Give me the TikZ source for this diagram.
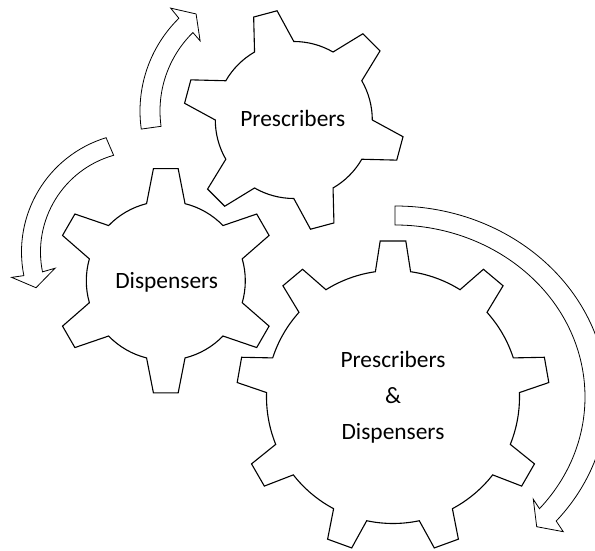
\documentclass[tikz,border=0pt]{standalone}
\usepackage{fontspec}
\setmainfont{Carlito}
\tikzset{
  gearline/.style={draw=black, line width=1.1pt, line join=miter, fill=white},
  bandarrow/.style={draw=black, line width=0.8pt, line join=miter, fill=white},
  geartext/.style={font=\fontsize{23.4}{36}\selectfont, text=black, inner sep=0pt, align=center},
}
% #1,#2 centre; #3 teeth; #4 angle of first tooth; #5 root radius; #6 tip radius;
% #7 half-angle of a tooth at the root; #8 half-angle of a tooth at the tip
\newcommand\gearoutline[8]{%
  \pgfmathsetmacro\gstep{360/#3}%
  \draw[gearline, shift={(#1,#2)}] ({#4-#7}:#5)
    \foreach \k in {1,...,#3} {
      -- ({#4+(\k-1)*\gstep-#8}:#6)
      -- ({#4+(\k-1)*\gstep+#8}:#6)
      -- ({#4+(\k-1)*\gstep+#7}:#5)
      arc[start angle={#4+(\k-1)*\gstep+#7}, end angle={#4+\k*\gstep-#7}, radius=#5]
    } -- cycle;
}
\begin{document}
\begin{tikzpicture}[x=1pt,y=1pt]
\useasboundingbox (0,0) rectangle (595,551);
\clip (0,0) rectangle (595,551);

% gears
\gearoutline{293.8}{431}{6}{105}{78.5}{110.5}{15}{6.3}
\gearoutline{165.8}{270.2}{6}{90}{79.5}{112.8}{14}{6.3}
\gearoutline{393}{154}{9}{90}{126.5}{156.5}{8}{4.7}

% curved arrow above the left gear, pointing up
\draw[bandarrow, shift={(270,440)}]
  (188:130) arc[start angle=188, end angle=134.5, radius=130]
  -- (134:143) -- (127.3:122) -- (134.9:99) -- (134.5:110)
  arc[start angle=134.5, end angle=188, radius=110] -- cycle;

% curved arrow on the left, pointing down
\draw[bandarrow, shift={(141,299)}]
  (107:119.5) arc[start angle=107, end angle=191.4, radius=119.5]
  -- (191.1:131.8) -- (198.8:110.9) -- (190.7:87.5) -- (191.4:100.5)
  arc[start angle=191.4, end angle=105.8, radius=100.5] -- cycle;

% long curved arrow round the large gear
\draw[bandarrow, shift={(395,154)}]
  (90:212 and 191) arc[start angle=90, end angle=-40.5, x radius=212, y radius=191]
  -- (168.3,-134.7) -- (141.7,-129.7) -- (138.3,-102.3) -- (-40.5:190 and 172)
  arc[start angle=-40.5, end angle=90, x radius=190, y radius=172] -- cycle;

% labels
\node[geartext, anchor=base] (presc) at (292.8,424.3) {Prescribers};
\node[geartext, anchor=base] (disp) at (166.7,262.7) {Dispensers};
\node[geartext] (both) at (393,154) {Prescribers\\\&\\Dispensers};
\end{tikzpicture}
\end{document}
